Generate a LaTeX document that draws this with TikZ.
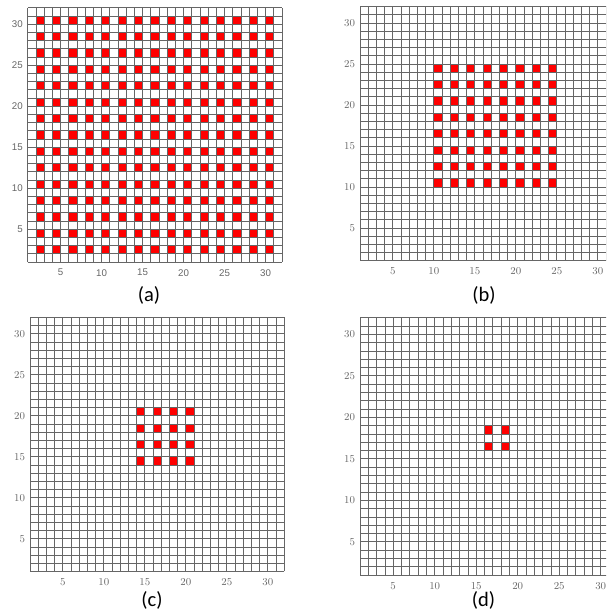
\documentclass[tikz,border=0pt]{standalone}
\usepackage{fontspec}
\newfontfamily\capfont{Carlito}
\newfontfamily\ticksans{Liberation Sans}
\usetikzlibrary{positioning}

\begin{document}
\begin{tikzpicture}[
    x=0.03cm, y=0.03cm,
    gridline/.style={draw=black!60, line width=0.55pt},
    redcell/.style={fill=red},
    tickrm/.style={font=\fontsize{9}{9}\selectfont, text=black!60, inner sep=1pt},
    ticksf/.style={font=\ticksans\fontsize{8.3}{8.3}\selectfont, text=black!60, inner sep=1pt},
    caption/.style={font=\capfont\fontsize{17.5}{17.5}\selectfont, inner sep=0pt}
]
\clip (0,0) rectangle (606,611);

% Panel (a): every second cell of the whole grid
\begin{scope}[shift={(19.5,340.8)}, x=0.246cm, y=0.246cm]
  \foreach \i in {2,4,...,30}
    \foreach \j in {2,4,...,30}
      \fill[redcell] (\i,\j) rectangle ++(1,1);
  \draw[gridline, step=1] (1,1) grid (32,32);
  \foreach \v in {5,10,...,30} {
    \node[ticksf, below=5pt] (ax\v) at (\v,1) {\v};
    \node[ticksf, left=3pt] (ay\v) at (1,\v) {\v};
  }
\end{scope}

% Panel (b): 8 x 8 block
\begin{scope}[shift={(351.8,342.1)}, x=0.246cm, y=0.246cm]
  \foreach \i in {10,12,...,24}
    \foreach \j in {10,12,...,24}
      \fill[redcell] (\i,\j) rectangle ++(1,1);
  \draw[gridline, step=1] (1,1) grid (32,32);
  \foreach \v in {5,10,...,30} {
    \node[tickrm, below=5pt] (bx\v) at (\v,1) {\v};
    \node[tickrm, left=3pt] (by\v) at (1,\v) {\v};
  }
\end{scope}

% Panel (c): 4 x 4 block
\begin{scope}[shift={(21.8,31.3)}, x=0.246cm, y=0.246cm]
  \foreach \i in {14,16,18,20}
    \foreach \j in {14,16,18,20}
      \fill[redcell] (\i,\j) rectangle ++(1,1);
  \draw[gridline, step=1] (1,1) grid (32,32);
  \foreach \v in {5,10,...,30} {
    \node[tickrm, below=5pt] (cx\v) at (\v,1) {\v};
    \node[tickrm, left=3pt] (cy\v) at (1,\v) {\v};
  }
\end{scope}

% Panel (d): 2 x 2 block
\begin{scope}[shift={(351.7,27.7)}, x=0.249cm, y=0.249cm]
  \foreach \i in {16,18}
    \foreach \j in {16,18}
      \fill[redcell] (\i,\j) rectangle ++(1,1);
  \draw[gridline, step=1] (1,1) grid (32,32);
  \foreach \v in {5,10,...,30} {
    \node[tickrm, below=5pt] (dx\v) at (\v,1) {\v};
    \node[tickrm, left=3pt] (dy\v) at (1,\v) {\v};
  }
\end{scope}

% Captions
\node[caption] (capa) at (149,316) {(a)};
\node[caption] (capb) at (484,316) {(b)};
\node[caption] (capc) at (152,11) {(c)};
\node[caption] (capd) at (483.5,11) {(d)};

\end{tikzpicture}
\end{document}
